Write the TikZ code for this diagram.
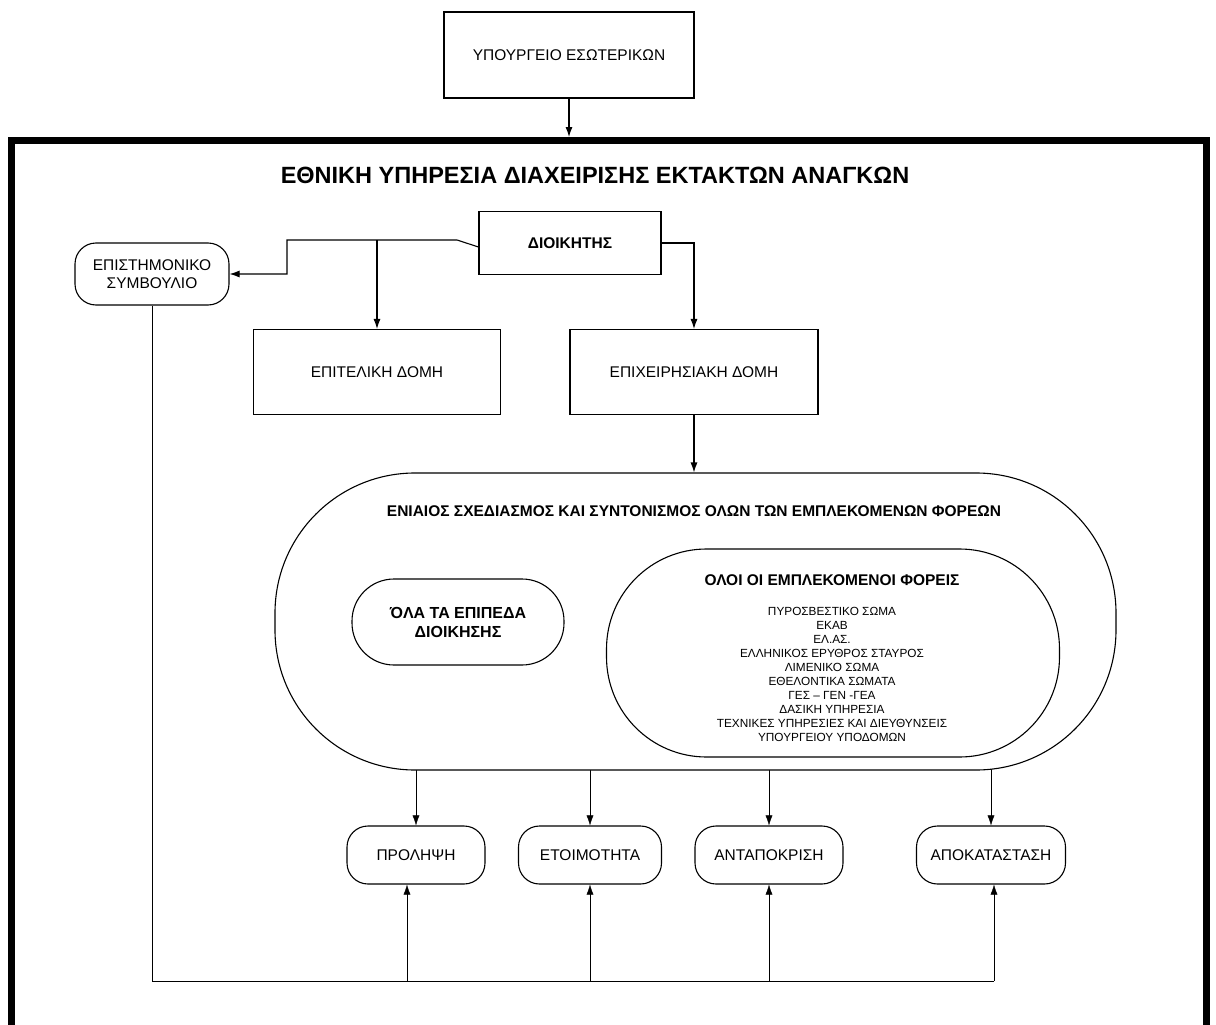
\documentclass[tikz,border=0pt]{standalone}
\usepackage{fontspec}
\setmainfont{Liberation Sans}
\usetikzlibrary{arrows.meta}
\usetikzlibrary{backgrounds}

\tikzset{
  arr/.style={-{Latex[length=10pt,width=7pt]}},
  box/.style={draw, rectangle, inner sep=0pt, align=center,
    font=\fontsize{15.5}{18}\selectfont},
  pill/.style={draw, rectangle, rounded corners=21pt, inner sep=0pt,
    align=center, fill=white, font=\fontsize{15.5}{18}\selectfont},
  bold/.style={font=\fontsize{15.5}{19}\selectfont\bfseries}
}

\begin{document}
\begin{tikzpicture}[x=1pt,y=-1pt,line width=1.1pt]
  \useasboundingbox (0,0) rectangle (1216,1025);

  % outer service frame
  \draw[line width=6.5pt] (11.5,1030) -- (11.5,140.5) -- (1206.5,140.5) -- (1206.5,1030);
  \coordinate (ft) at (569,137);
  \coordinate (kink) at (457,240);
  \coordinate (bus) at (0,981);

  \node[box, minimum width=250pt, minimum height=86pt] (min) at (569,55) {ΥΠΟΥΡΓΕΙΟ ΕΣΩΤΕΡΙΚΩΝ};
  \node[font=\fontsize{23.5}{27}\selectfont\bfseries] (title) at (595,175) {ΕΘΝΙΚΗ ΥΠΗΡΕΣΙΑ ΔΙΑΧΕΙΡΙΣΗΣ ΕΚΤΑΚΤΩΝ ΑΝΑΓΚΩΝ};

  \node[box, bold, minimum width=182pt, minimum height=63pt] (dio) at (570,243) {ΔΙΟΙΚΗΤΗΣ};
  \node[pill, minimum width=154pt, minimum height=62pt] (sym) at (152,274) {ΕΠΙΣΤΗΜΟΝΙΚΟ\\ΣΥΜΒΟΥΛΙΟ};
  \node[box, minimum width=247pt, minimum height=85pt] (epit) at (377,372) {ΕΠΙΤΕΛΙΚΗ ΔΟΜΗ};
  \node[box, minimum width=248pt, minimum height=85pt] (epix) at (694,372) {ΕΠΙΧΕΙΡΗΣΙΑΚΗ ΔΟΜΗ};

  % planning oval
  \node[pill, rounded corners=140pt, minimum width=841pt, minimum height=297pt] (oval) at (695.5,621.5) {};
  \node[bold] (ovtitle) at (694,511) {ΕΝΙΑΙΟΣ ΣΧΕΔΙΑΣΜΟΣ ΚΑΙ ΣΥΝΤΟΝΙΣΜΟΣ ΟΛΩΝ ΤΩΝ ΕΜΠΛΕΚΟΜΕΝΩΝ ΦΟΡΕΩΝ};
  \node[pill, rounded corners=42pt, minimum width=212pt, minimum height=86pt,
    font=\fontsize{16}{19}\selectfont\bfseries] (lvl) at (458,622) {ΌΛΑ ΤΑ ΕΠΙΠΕΔΑ\\ΔΙΟΙΚΗΣΗΣ};
  \node[pill, rounded corners=100pt, minimum width=453pt, minimum height=208pt] (forz) at (833,653) {};
  \node[bold] (forhead) at (832,580) {ΟΛΟΙ ΟΙ ΕΜΠΛΕΚΟΜΕΝΟΙ ΦΟΡΕΙΣ};
  \node[align=center, font=\fontsize{11.8}{14}\selectfont] (forlist) at (832,674) {ΠΥΡΟΣΒΕΣΤΙΚΟ ΣΩΜΑ\\ΕΚΑΒ\\ΕΛ.ΑΣ.\\ΕΛΛΗΝΙΚΟΣ ΕΡΥΘΡΟΣ ΣΤΑΥΡΟΣ\\ΛΙΜΕΝΙΚΟ ΣΩΜΑ\\ΕΘΕΛΟΝΤΙΚΑ ΣΩΜΑΤΑ\\ΓΕΣ – ΓΕΝ -ΓΕΑ\\ΔΑΣΙΚΗ ΥΠΗΡΕΣΙΑ\\ΤΕΧΝΙΚΕΣ ΥΠΗΡΕΣΙΕΣ ΚΑΙ ΔΙΕΥΘΥΝΣΕΙΣ\\ΥΠΟΥΡΓΕΙΟΥ ΥΠΟΔΟΜΩΝ};

  % phases
  \node[pill, minimum width=138pt, minimum height=58pt] (prol) at (416,855) {ΠΡΟΛΗΨΗ};
  \node[pill, minimum width=143pt, minimum height=58pt] (eto) at (590,855) {ΕΤΟΙΜΟΤΗΤΑ};
  \node[pill, minimum width=148pt, minimum height=58pt] (ant) at (769,855) {ΑΝΤΑΠΟΚΡΙΣΗ};
  \node[pill, minimum width=149pt, minimum height=58pt] (apok) at (991,855) {ΑΠΟΚΑΤΑΣΤΑΣΗ};

  \draw[arr] (min.south) -- (ft);
  \draw[arr] ([yshift=-4pt]dio.west) -- (kink) -- (287,240) |- (sym.east);
  \draw[arr] (epit.north |- kink) -- (epit.north);
  \draw[arr] (dio.east) -| (epix.north);
  \draw[arr] (epix.south) -- (epix.south |- oval.north);

  \begin{pgfonlayer}{background}
    \foreach \ph in {prol,eto,ant,apok}
      \draw[arr] (\ph.north |- oval.center) -- (\ph.north);
  \end{pgfonlayer}

  \draw (sym.south) |- ([xshift=3pt]apok.south |- bus);
  \draw[arr] ([xshift=-9pt]prol.south |- bus) -- ([xshift=-9pt]prol.south);
  \draw[arr] (eto.south |- bus) -- (eto.south);
  \draw[arr] (ant.south |- bus) -- (ant.south);
  \draw[arr] ([xshift=3pt]apok.south |- bus) -- ([xshift=3pt]apok.south);
\end{tikzpicture}
\end{document}
